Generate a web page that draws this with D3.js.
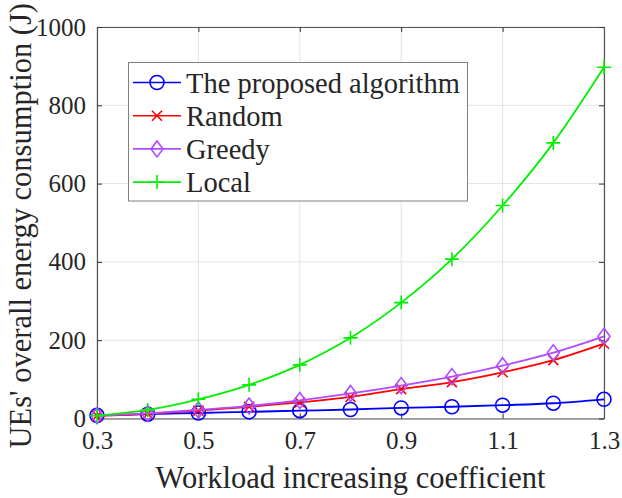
<!DOCTYPE html>
<html>
<head>
<meta charset="utf-8">
<script src="https://cdn.jsdelivr.net/npm/d3@7"></script>
<style>
  body { margin: 0; background: #fff; }
  svg text { font-family: "Liberation Serif", "Times New Roman", serif; fill: #262626; }
</style>
</head>
<body>
<div id="chart"></div>
<script>

// data
var coefficients = [0.3, 0.4, 0.5, 0.6, 0.7, 0.8, 0.9, 1.0, 1.1, 1.2, 1.3];
var proposed = [8, 11, 14, 17, 20, 23, 27, 30, 34, 39, 49];
var random   = [7, 12, 20, 30, 41, 55, 75, 93, 118, 149, 191];
var greedy   = [7, 13, 22, 32, 46, 64, 84, 107, 135, 168, 210];
var local    = [7, 22, 49, 86, 137, 206, 296, 407, 544, 704, 897];

var xTicks = [0.3, 0.5, 0.7, 0.9, 1.1, 1.3];
var yTicks = [0, 200, 400, 600, 800, 1000];

var seriesNames = ['The proposed algorithm', 'Random', 'Greedy', 'Local'];

var width = 622;
var height = 498;

var plotLeft = 97, plotRight = 604, plotTop = 27, plotBottom = 418.5;

var svg = d3.select('#chart')
	.append('svg')
	.attr('width', width)
	.attr('height', height);

var x = d3.scaleLinear().domain([0.3, 1.3]).range([plotLeft, plotRight]);
var y = d3.scaleLinear().domain([0, 1000]).range([plotBottom, plotTop]);

// grid
svg.append('g')
	.selectAll('line')
	.data(xTicks)
	.enter()
	.append('line')
	.attr('x1', function (d) { return x(d); })
	.attr('x2', function (d) { return x(d); })
	.attr('y1', plotTop)
	.attr('y2', plotBottom)
	.attr('stroke', '#e3e3e3')
	.attr('stroke-width', 1);

svg.append('g')
	.selectAll('line')
	.data(yTicks)
	.enter()
	.append('line')
	.attr('x1', plotLeft)
	.attr('x2', plotRight)
	.attr('y1', function (d) { return y(d); })
	.attr('y2', function (d) { return y(d); })
	.attr('stroke', '#e3e3e3')
	.attr('stroke-width', 1);

// axes (ticks pointing inward, box on)
var xAxis = svg.append('g')
	.attr('transform', 'translate(0,' + plotBottom + ')')
	.call(d3.axisBottom(x).tickValues(xTicks).tickSizeInner(-5).tickSizeOuter(0).tickPadding(13)
		.tickFormat(d3.format('.1f')));

var xTop = svg.append('g')
	.attr('transform', 'translate(0,' + plotTop + ')')
	.call(d3.axisTop(x).tickValues(xTicks).tickSizeInner(-5).tickSizeOuter(0).tickFormat(''));

var yAxis = svg.append('g')
	.attr('transform', 'translate(' + plotLeft + ',0)')
	.call(d3.axisLeft(y).tickValues(yTicks).tickSizeInner(-5).tickSizeOuter(0).tickPadding(11)
		.tickFormat(d3.format('d')));

var yRight = svg.append('g')
	.attr('transform', 'translate(' + plotRight + ',0)')
	.call(d3.axisRight(y).tickValues(yTicks).tickSizeInner(-5).tickSizeOuter(0).tickFormat(''));

[xAxis, xTop, yAxis, yRight].forEach(function (g) {
	g.select('.domain').attr('stroke', '#555').attr('stroke-width', 1.2);
	g.selectAll('.tick line').attr('stroke', '#333');
	g.selectAll('text')
		.attr('font-family', '"Liberation Serif", serif')
		.attr('font-size', '25px')
		.attr('fill', '#262626');
});

// axis labels
svg.append('text')
	.attr('x', (plotLeft + plotRight) / 2)
	.attr('y', 488)
	.attr('text-anchor', 'middle')
	.attr('font-size', '30.5px')
	.text('Workload increasing coefficient');

svg.append('text')
	.attr('transform', 'translate(31,' + ((plotTop + plotBottom) / 2 + 3) + ') rotate(-90)')
	.attr('text-anchor', 'middle')
	.attr('font-size', '30.5px')
	.text("UEs' overall energy consumption (J)");

// series
var series = [
	{ name: seriesNames[0], values: proposed, color: '#0000ff', marker: 'circle' },
	{ name: seriesNames[1], values: random,   color: '#ff0000', marker: 'cross' },
	{ name: seriesNames[2], values: greedy,   color: '#b04cff', marker: 'diamond' },
	{ name: seriesNames[3], values: local,    color: '#00f000', marker: 'plus' }
];

var line = d3.line()
	.x(function (d, i) { return x(coefficients[i]); })
	.y(function (d) { return y(d); })
	.curve(d3.curveMonotoneX);

function drawMarker(g, type, cx, cy, color) {
	if (type === 'circle') {
		g.append('circle')
			.attr('cx', cx).attr('cy', cy).attr('r', 7)
			.attr('fill', 'none').attr('stroke', color).attr('stroke-width', 1.6);
	} else if (type === 'cross') {
		var s = 5;
		g.append('path')
			.attr('d', 'M' + (cx - s) + ',' + (cy - s) + 'L' + (cx + s) + ',' + (cy + s) +
				'M' + (cx - s) + ',' + (cy + s) + 'L' + (cx + s) + ',' + (cy - s))
			.attr('stroke', color).attr('stroke-width', 1.6).attr('fill', 'none');
	} else if (type === 'diamond') {
		var w = 6, h = 8;
		g.append('path')
			.attr('d', 'M' + cx + ',' + (cy - h) + 'L' + (cx + w) + ',' + cy +
				'L' + cx + ',' + (cy + h) + 'L' + (cx - w) + ',' + cy + 'Z')
			.attr('stroke', color).attr('stroke-width', 1.6).attr('fill', 'none');
	} else {
		var p = 7;
		g.append('path')
			.attr('d', 'M' + (cx - p) + ',' + cy + 'L' + (cx + p) + ',' + cy +
				'M' + cx + ',' + (cy - p) + 'L' + cx + ',' + (cy + p))
			.attr('stroke', color).attr('stroke-width', 1.6).attr('fill', 'none');
	}
}

series.forEach(function (s) {
	var g = svg.append('g');
	g.append('path')
		.attr('d', line(s.values))
		.attr('fill', 'none')
		.attr('stroke', s.color)
		.attr('stroke-width', 1.8);
	s.values.forEach(function (v, i) {
		drawMarker(g, s.marker, x(coefficients[i]), y(v), s.color);
	});
});

// legend
var legend = svg.append('g');

legend.append('rect')
	.attr('x', 128.5)
	.attr('y', 62.5)
	.attr('width', 339)
	.attr('height', 138.5)
	.attr('fill', '#fff')
	.attr('stroke', '#808080')
	.attr('stroke-width', 1);

series.forEach(function (s, i) {
	var ry = 82.5 + i * 33.2;
	legend.append('line')
		.attr('x1', 133).attr('x2', 181)
		.attr('y1', ry).attr('y2', ry)
		.attr('stroke', s.color).attr('stroke-width', 1.6);
	drawMarker(legend, s.marker, 157, ry, s.color);
	legend.append('text')
		.attr('x', 186)
		.attr('y', ry + 10)
		.attr('font-size', '28.5px')
		.attr('fill', '#000')
		.text(s.name);
});

</script>
</body>
</html>
